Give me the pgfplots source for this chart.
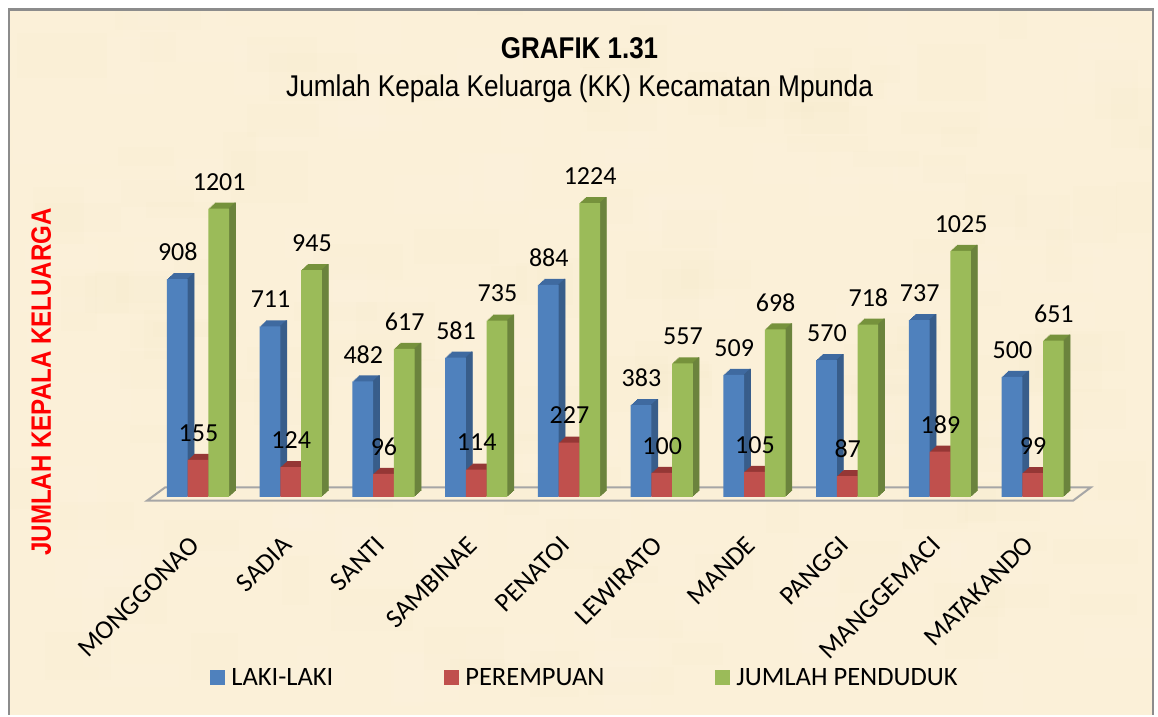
\documentclass[border=0pt]{standalone}
\usepackage{pgfplots}
\usepackage{pgfplotstable}
\pgfplotsset{compat=1.18}
\usepackage{fontspec}
\setmainfont{Carlito}
\newfontfamily\arial{Liberation Sans}
\definecolor{bgp}{HTML}{FBF0D8}
\definecolor{bgl}{HTML}{FFF8EA}
\definecolor{bgd}{HTML}{F3E3C0}
\definecolor{frameg}{HTML}{8C8C8C}
\definecolor{floorg}{HTML}{A6A6A6}
\definecolor{bf}{HTML}{4F81BD}
\definecolor{bt}{HTML}{3F6AA0}
\definecolor{bs}{HTML}{385D8A}
\definecolor{rf}{HTML}{C0504D}
\definecolor{rt}{HTML}{953735}
\definecolor{rs}{HTML}{8C3836}
\definecolor{gf}{HTML}{9BBB59}
\definecolor{gt}{HTML}{76923C}
\definecolor{gs}{HTML}{6B833D}
\pgfplotstableread{
x lk pr jp
0 908 155 1201
1 711 124 945
2 482 96 617
3 581 114 735
4 884 227 1224
5 383 100 557
6 509 105 698
7 570 87 718
8 737 189 1025
9 500 99 651
}\datatable
\pgfplotsset{mylegend/.style={legend image code/.code={\fill[##1,/tikz/.cd] (0pt,-7.5pt) rectangle (15pt,7.5pt);}}}
% #1 column, #2 bar shift, #3 top, #4 side, #5 front
\newcommand{\barseries}[5]{%
  \pgfplotsinvokeforeach{1,...,6}{%
    \addplot[ybar,forget plot,draw=none,fill=#3,bar width=20.7pt,bar shift=#2pt,xshift=##1*1.08pt,yshift=##1*1pt] table[x=x,y=#1]{\datatable};
  }%
  \pgfplotsinvokeforeach{1,...,6}{%
    \addplot[ybar,forget plot,draw=none,fill=#4,bar width=1.5pt,bar shift=#2pt,xshift=10.35pt+##1*1.08pt-0.5pt,yshift=##1*1pt] table[x=x,y=#1]{\datatable};
  }%
  \addplot[ybar,draw=none,fill=#5,bar width=20.7pt,bar shift=#2pt,mylegend] table[x=x,y=#1]{\datatable};
}
\newcommand{\labelseries}[2]{%
  \addplot[ybar,forget plot,draw=none,fill=none,bar width=20.7pt,bar shift=0pt,
    nodes near coords,point meta=y,
    every node near coord/.style={text=black,inner sep=0pt,anchor=center,xshift=#2pt+0.5pt,yshift=27pt,font=\fontsize{26}{30}\selectfont}]
    table[x=x,y=#1]{\datatable};
}
\begin{document}
\begin{tikzpicture}[x=1pt,y=1pt]
\fill[white] (0,0) rectangle (1158,715);
\fill[bgp] (9,0) rectangle (1153,706);
\begin{scope}
\clip (9,0) rectangle (1153,706);
\pgfmathsetseed{7}
\foreach \i in {1,...,260}{
  \pgfmathsetmacro\px{random(0,1140)}
  \pgfmathsetmacro\py{random(0,700)}
  \pgfmathsetmacro\pw{random(25,90)}
  \pgfmathsetmacro\ph{random(15,60)}
  \pgfmathtruncatemacro\pc{mod(\i,2)}
  \ifnum\pc=0
    \fill[bgl,opacity=0.09] (\px,\py) rectangle ++(\pw,\ph);
  \else
    \fill[bgd,opacity=0.05] (\px,\py) rectangle ++(\pw,\ph);
  \fi
}
\end{scope}
\draw[frameg,line width=2.5pt] (9,0) -- (9,705.5) -- (1153,705.5) -- (1153,0);
\draw[floorg,line width=2pt,line join=miter] (147,214.3) -- (165,227.5) -- (1090.7,227.5) -- (1073,214.3) -- cycle;
\begin{axis}[
  at={(0pt,218pt)},anchor=south west,scale only axis,width=1158pt,height=497pt,
  xmin=-2.135,xmax=10.3515,ymin=0,ymax=2070.83,clip=false,
  axis line style={draw=none},
  ytick=\empty,xtick={0,...,9},
  xticklabels={MONGGONAO,SADIA,SANTI,SAMBINAE,PENATOI,LEWIRATO,MANDE,PANGGI,MANGGEMACI,MATAKANDO},
  xtick style={draw=none},
  x tick label style={rotate=45,anchor=north east,inner sep=0pt,xshift=-33.4pt,yshift=-19.8pt,font=\fontsize{26.5}{30}\selectfont},
  /pgf/number format/.cd,1000 sep={},assume math mode=true,/pgfplots/.cd,
  title={{\arial\bfseries\scalebox{0.865}[1]{GRAFIK 1.31}}\\{\arial\scalebox{0.873}[1]{Jumlah Kepala Keluarga (KK) Kecamatan Mpunda}}},
  title style={at={(axis description cs:0.5005,0.847)},anchor=center,yshift=0pt,align=center,inner sep=0pt,font=\fontsize{30}{38}\selectfont},
  ylabel={\arial\bfseries\scalebox{0.86}[1]{JUMLAH KEPALA KELUARGA}},
  ylabel style={at={(axis description cs:0.0355,0.2315)},anchor=center,rotate=0,inner sep=0pt,text=red,font=\fontsize{28}{32}\selectfont},
  legend columns=3,
  legend style={at={(axis description cs:0.1815,-0.364)},anchor=west,draw=none,fill=none,inner sep=0pt,font=\fontsize{26.5}{30}\selectfont,
    /tikz/every even column/.style={column sep=109pt},/tikz/every odd column/.style={column sep=4pt}},
]
\barseries{lk}{-20.7}{bt}{bs}{bf}
\barseries{pr}{0}{rt}{rs}{rf}
\barseries{jp}{20.7}{gt}{gs}{gf}
\labelseries{lk}{-20.7}
\labelseries{pr}{0}
\labelseries{jp}{20.7}
\legend{LAKI-LAKI,PEREMPUAN,JUMLAH PENDUDUK}
\end{axis}
\end{tikzpicture}
\end{document}
